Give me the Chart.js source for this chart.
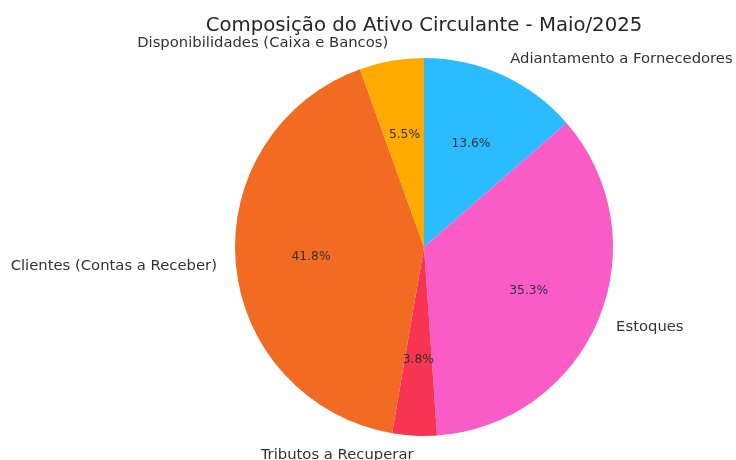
<!DOCTYPE html>
<html>
<head>
<meta charset="utf-8">
<script src="https://cdn.jsdelivr.net/npm/chart.js@4/dist/chart.umd.min.js"></script>
<style>
html,body{margin:0;padding:0;background:#fff;}
#wrap{width:736px;height:460px;position:relative;}
</style>
</head>
<body>
<div id="wrap"><canvas id="c" width="736" height="460"></canvas></div>
<script>
// Clockwise from 12 o'clock
const categories = ["Adiantamento a Fornecedores", "Estoques", "Tributos a Recuperar", "Clientes (Contas a Receber)", "Disponibilidades (Caixa e Bancos)"];
const shares = [13.6, 35.3, 3.8, 41.8, 5.5];
const colors = ["#2BBCFF", "#F95CC6", "#F73451", "#F26B22", "#FFAA00"];
const titleText = "Composição do Ativo Circulante - Maio/2025";

const FONT = "'DejaVu Sans', sans-serif";

const labelPlugin = {
  id: 'pieLabels',
  afterDraw(chart) {
    const ctx = chart.ctx;
    const meta = chart.getDatasetMeta(0);
    ctx.save();
    // title
    ctx.fillStyle = '#262626';
    ctx.font = '19.7px ' + FONT;
    ctx.textAlign = 'center';
    ctx.textBaseline = 'middle';
    const cx0 = (chart.chartArea.left + chart.chartArea.right) / 2;
    ctx.fillText(titleText, cx0, 26);
    meta.data.forEach((arc, i) => {
      const p = arc.getProps(['x', 'y', 'startAngle', 'endAngle', 'outerRadius'], true);
      const mid = (p.startAngle + p.endAngle) / 2;
      const cos = Math.cos(mid), sin = Math.sin(mid);
      // outside label
      const lx = p.x + cos * p.outerRadius * 1.1;
      const ly = p.y + sin * p.outerRadius * 1.1;
      ctx.font = '14.8px ' + FONT;
      ctx.fillStyle = '#333333';
      ctx.textAlign = cos > 0 ? 'left' : 'right';
      ctx.textBaseline = 'middle';
      ctx.fillText(categories[i], lx, ly + 1);
      // percent
      const px = p.x + cos * p.outerRadius * 0.6;
      const py = p.y + sin * p.outerRadius * 0.6;
      ctx.font = '12.3px ' + FONT;
      ctx.fillStyle = '#333333';
      ctx.textAlign = 'center';
      ctx.fillText(shares[i].toFixed(1) + '%', px, py);
    });
    ctx.restore();
  }
};

new Chart(document.getElementById('c'), {
  type: 'pie',
  data: {
    labels: categories,
    datasets: [{
      data: shares,
      backgroundColor: colors,
      borderWidth: 0
    }]
  },
  options: {
    responsive: false,
    animation: false,
    layout: { padding: { left: 235, right: 123, top: 58, bottom: 24 } },
    plugins: {
      legend: { display: false },
      title: { display: false },
      tooltip: { enabled: false }
    }
  },
  plugins: [labelPlugin]
});
</script>
</body>
</html>
